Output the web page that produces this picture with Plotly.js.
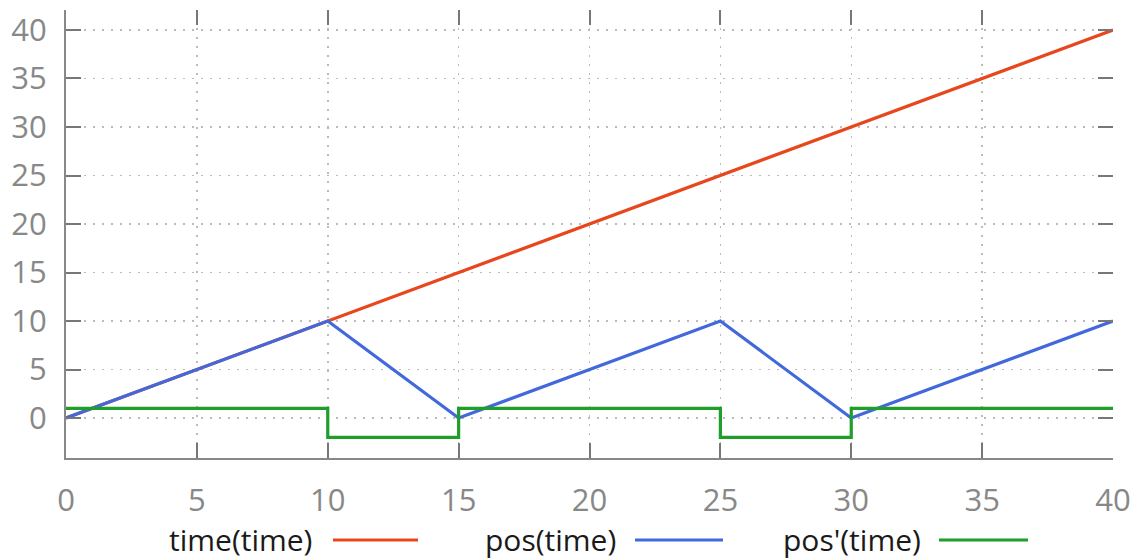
<!DOCTYPE html>
<html>
<head>
<meta charset="utf-8">
<script src="https://cdn.plot.ly/plotly-3.0.1.min.js"></script>
<style>html,body{margin:0;padding:0;background:#fff;}#chart{width:1139px;height:560px;}</style>
</head>
<body>
<div id="chart"></div>
<script>
// ---- data ----
const timeX = [0, 40];
const timeY = [0, 40];
const posX = [0, 10, 15, 25, 30, 40];
const posY = [0, 10, 0, 10, 0, 10];
const dposX = [0, 10, 15, 25, 30, 40];
const dposY = [1, -2, 1, -2, 1, 1];
const seriesNames = ["time(time)", "pos(time)", "pos'(time)"];
const seriesColors = ["#e8461c", "#4169dc", "#1f9e2a"];
const xTicks = [0, 5, 10, 15, 20, 25, 30, 35, 40];
const yTicks = [0, 5, 10, 15, 20, 25, 30, 35, 40];

const W = 1139, H = 560;
const M = {l: 66, r: 26, t: 10, b: 102};
const plotW = W - M.l - M.r, plotH = H - M.t - M.b;
const px = v => (v - M.l) / plotW;
const py = v => (H - M.b - v) / plotH;

const xRange = [0, 40];
const yRange = [-4.12, 42.06];

const traces = [
  {x: timeX, y: timeY, mode: 'lines', name: seriesNames[0], line: {color: seriesColors[0], width: 3.2}, showlegend: false},
  {x: posX, y: posY, mode: 'lines', name: seriesNames[1], line: {color: seriesColors[1], width: 3.2}, showlegend: false},
  {x: dposX, y: dposY, mode: 'lines', name: seriesNames[2], line: {color: seriesColors[2], width: 3.2, shape: 'hv'}, showlegend: false},
  {x: timeX, y: timeY, mode: 'lines', xaxis: 'x2', yaxis: 'y2', opacity: 0, hoverinfo: 'skip', showlegend: false, line: {width: 0}}
];

const tickFont = {family: 'Open Sans, Liberation Sans, sans-serif', size: 31, color: '#888888'};
const gridDash = '1.5px,7.5px';

const baseAxis = {
  ticks: 'inside', ticklen: 15, tickwidth: 2, tickcolor: '#777777',
  showline: true, linecolor: '#888888', linewidth: 2,
  showgrid: true, gridcolor: '#bbbbbb', gridwidth: 1.5, griddash: gridDash,
  zeroline: false, tickfont: tickFont, fixedrange: true
};

// legend built as text + line sample (text first, as in the reference)
const legText = [
  {right: 313, s0: 333, s1: 418},
  {right: 617, s0: 635, s1: 723},
  {right: 922, s0: 939, s1: 1028}
];
const legY = 539;
const annotations = seriesNames.map((n, i) => ({
  text: n, xref: 'paper', yref: 'paper', x: px(legText[i].right), y: py(legY),
  xanchor: 'right', yanchor: 'middle', showarrow: false, borderpad: 0,
  font: {family: 'Open Sans, Liberation Sans, sans-serif', size: 30, color: '#1a1a1a'}
}));
const shapes = seriesNames.map((n, i) => ({
  type: 'line', xref: 'paper', yref: 'paper',
  x0: px(legText[i].s0), x1: px(legText[i].s1), y0: py(legY + 1), y1: py(legY + 1),
  line: {color: seriesColors[i], width: 3.2}
}));

const layout = {
  width: W, height: H,
  margin: M,
  paper_bgcolor: '#ffffff', plot_bgcolor: '#ffffff',
  showlegend: false,
  xaxis: Object.assign({}, baseAxis, {range: xRange, tickvals: xTicks, ticktext: xTicks.map(String), ticklabelstandoff: 14}),
  yaxis: Object.assign({}, baseAxis, {range: yRange, tickvals: yTicks, ticktext: yTicks.map(String), ticklabelstandoff: 11}),
  xaxis2: {overlaying: 'x', side: 'top', anchor: 'y', range: xRange, tickvals: xTicks, ticks: 'inside', ticklen: 15, tickwidth: 2, tickcolor: '#777777', showticklabels: false, showline: false, showgrid: false, zeroline: false, fixedrange: true},
  yaxis2: {overlaying: 'y', side: 'right', anchor: 'x', range: yRange, tickvals: yTicks, ticks: 'inside', ticklen: 15, tickwidth: 2, tickcolor: '#777777', showticklabels: false, showline: false, showgrid: false, zeroline: false, fixedrange: true},
  annotations: annotations,
  shapes: shapes
};

Plotly.newPlot('chart', traces, layout, {displayModeBar: false, staticPlot: true});
</script>
</body>
</html>
